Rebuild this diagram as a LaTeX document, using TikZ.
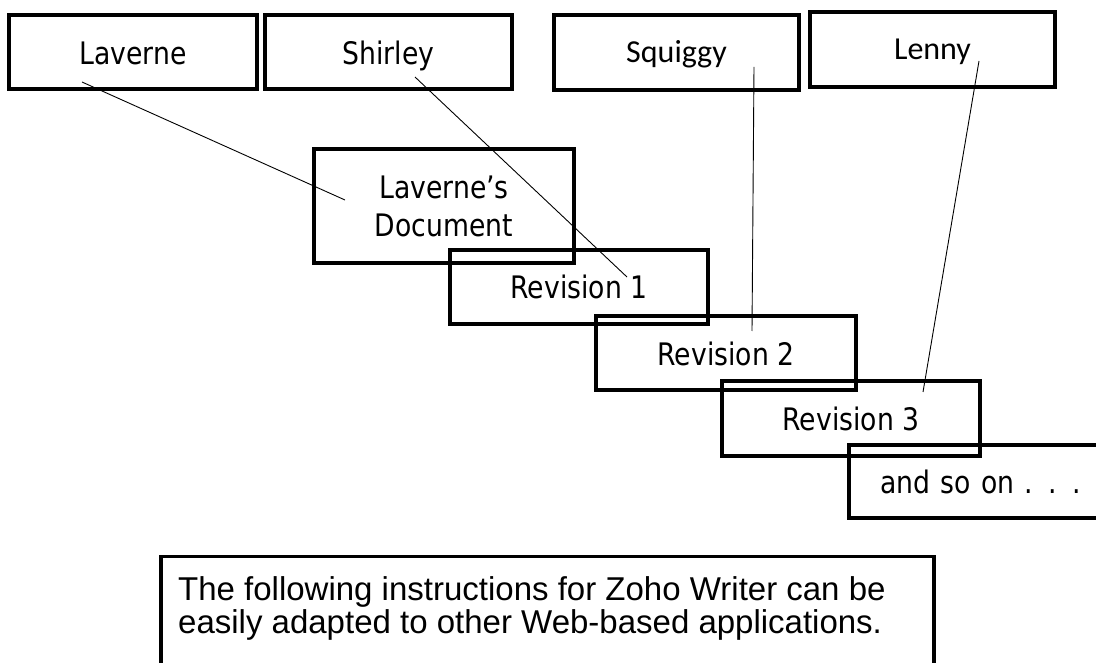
\documentclass[tikz,border=0pt]{standalone}
\usepackage{fontspec}
\setmainfont{Liberation Sans}
\newfontfamily\tahomalike[FakeStretch=0.86]{DejaVu Sans}
\newfontfamily\calibrilike{Carlito}

\begin{document}
\begin{tikzpicture}[x=1pt, y=-1pt,
  frame/.style={draw, line width=3.3pt, inner sep=0pt},
  tah/.style={font=\tahomalike\fontsize{31}{38}\selectfont},
  cal/.style={font=\calibrilike\fontsize{32}{38}\selectfont},
  oneline/.style={text height=#1, text depth=0pt},
  link/.style={line width=0.9pt},
  note/.style={anchor=base west, inner sep=0pt, font=\fontsize{33}{34}\selectfont}]
\useasboundingbox (0,0) rectangle (1096,663);
\clip (0,0) rectangle (1096,663);

% people
\node[frame, tah, oneline=26pt, minimum width=248pt, minimum height=74pt] (laverne) at (133,52) {Laverne};
\node[frame, tah, oneline=26pt, minimum width=247pt, minimum height=74pt] (shirley) at (388.5,52) {Shirley};
\node[frame, cal, oneline=21pt, minimum width=245pt, minimum height=75pt] (squiggy) at (676.5,52.5) {Squiggy};
\node[frame, cal, oneline=21pt, minimum width=245pt, minimum height=75pt] (lenny) at (932.5,49.5) {Lenny};

% document and its revisions
\node[frame, tah, align=center, minimum width=260pt, minimum height=114pt] (doc) at (444,206) {Laverne’s\\Document};
\node[frame, tah, oneline=24pt, minimum width=258pt, minimum height=74pt] (rev1) at (579,287) {Revision 1};
\node[frame, tah, oneline=24pt, minimum width=260pt, minimum height=74pt] (rev2) at (726,353) {Revision 2};
\node[frame, tah, oneline=24pt, minimum width=258pt, minimum height=75pt] (rev3) at (851,418.5) {Revision 3};
\node[frame, tah, oneline=23pt, minimum height=73pt, text width=240pt, inner xsep=31pt, align=left] (more) at (1000,481.5) {and so on . . .};

% who edits what
\coordinate (lavA) at (82,82);   \coordinate (lavB) at (345,200);
\coordinate (shiA) at (415,77);  \coordinate (shiB) at (627,277);
\coordinate (squA) at (754,67);  \coordinate (squB) at (752,331);
\coordinate (lenA) at (979,61);  \coordinate (lenB) at (923,392);
\draw[link] (lavA) -- (lavB);
\draw[link] (shiA) -- (shiB);
\draw[link] (squA) -- (squB);
\draw[link] (lenA) -- (lenB);

% note below
\node[note] (note1) at (178,600) {The following instructions for Zoho Writer can be};
\node[note] (note2) at (178,633) {easily adapted to other Web-based applications.};
\draw[line width=3.3pt] (161,670) -- (161,556.5) -- (934,556.5) -- (934,670);
\end{tikzpicture}
\end{document}
